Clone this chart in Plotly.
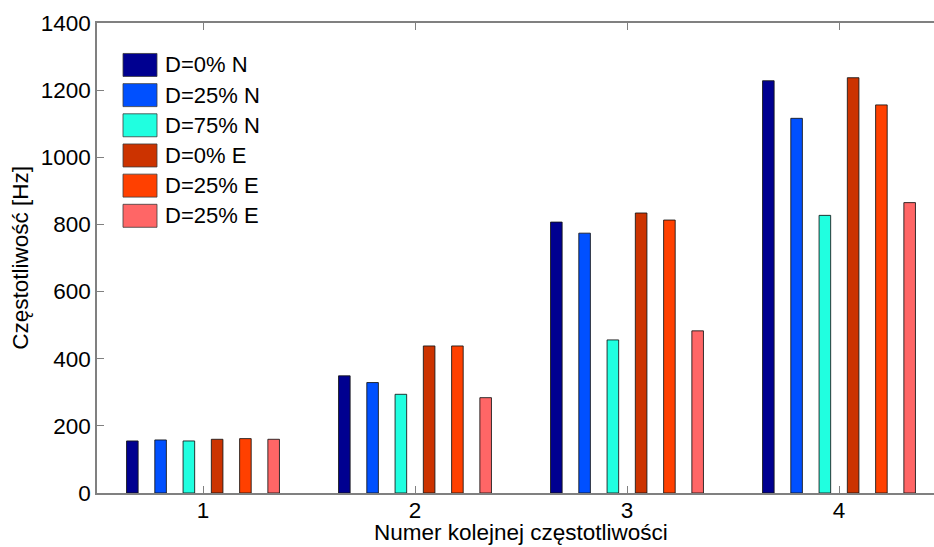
import plotly.graph_objects as go

categories = [1, 2, 3, 4]
series_names = ["D=0% N", "D=25% N", "D=75% N", "D=0% E", "D=25% E", "D=25% E"]
d0_N = [155, 349, 807, 1228]
d25_N = [158, 329, 774, 1116]
d75_N = [155, 294, 456, 827]
d0_E = [160, 438, 834, 1237]
d25_E = [162, 438, 813, 1156]
d25_E_b = [160, 284, 483, 865]
tick_labels = ["1", "2", "3", "4"]

values = [d0_N, d25_N, d75_N, d0_E, d25_E, d25_E_b]
colors = ["#000090", "#0050FF", "#20FFE0", "#CC3300", "#FF4000", "#FF6666"]

FONT = "Liberation Sans, Arial, sans-serif"
FS = 22.5
W, H = 934, 547
L, T, B = 97, 23, 53.5

fig = go.Figure()
for name, vals, col in zip(series_names, values, colors):
    fig.add_trace(go.Bar(x=categories, y=vals, name=name,
                         marker=dict(color=col, line=dict(color="rgba(20,20,20,0.85)", width=1)),
                         showlegend=False))

# manual legend (large MATLAB-style swatches)
pw = W - L
ph = H - T - B
def px_x(x):
    return (x - L) / pw
def px_y(y):
    return 1 - (y - T) / ph

shapes = []
annotations = []
row0 = 65
for i, (name, col) in enumerate(zip(series_names, colors)):
    yc = row0 + i * 30.2
    shapes.append(dict(type="rect", xref="paper", yref="paper",
                       x0=px_x(123), x1=px_x(157), y0=px_y(yc + 11.5), y1=px_y(yc - 11.5),
                       fillcolor=col, line=dict(color="rgba(60,60,60,0.8)", width=1)))
    annotations.append(dict(xref="paper", yref="paper", x=px_x(163), y=px_y(yc),
                            text=name, showarrow=False, xanchor="left", yanchor="middle",
                            font=dict(family=FONT, size=22, color="black")))

annotations.append(dict(xref="paper", yref="paper", x=px_x(521), y=px_y(533),
                        text="Numer kolejnej częstotliwości", showarrow=False,
                        xanchor="center", yanchor="middle",
                        font=dict(family=FONT, size=FS, color="black")))
annotations.append(dict(xref="paper", yref="paper", x=px_x(21), y=px_y(258),
                        text="Częstotliwość [Hz]", showarrow=False, textangle=-90,
                        xanchor="center", yanchor="middle",
                        font=dict(family=FONT, size=FS, color="black")))

fig.update_layout(
    width=W, height=H,
    margin=dict(l=L, r=0, t=T, b=B, autoexpand=False),
    paper_bgcolor="white", plot_bgcolor="white",
    barmode="group", bargap=0.2, bargroupgap=0.59,
    font=dict(family=FONT, size=FS, color="black"),
    shapes=shapes, annotations=annotations,
    xaxis=dict(range=[0.5, 0.5 + (W - L) / 212.0], tickmode="array",
               tickvals=categories, ticktext=tick_labels, automargin=False,
               showline=True, linecolor="#808080", linewidth=1.5, mirror="ticks",
               ticks="inside", ticklen=7, tickcolor="#808080", tickwidth=1,
               showgrid=False, zeroline=False, ticklabelstandoff=-4,
               tickfont=dict(family=FONT, size=FS, color="black")),
    yaxis=dict(range=[0, 1400], dtick=200, showline=True, linecolor="#808080", linewidth=1.5,
               ticks="inside", ticklen=7, tickcolor="#808080", tickwidth=1,
               showgrid=False, zeroline=False, automargin=False,
               tickfont=dict(family=FONT, size=FS, color="black")),
)

fig.write_html("out.html", config={"displayModeBar": False},
               post_script="document.body.style.margin='0px';document.body.style.overflow='hidden';")
